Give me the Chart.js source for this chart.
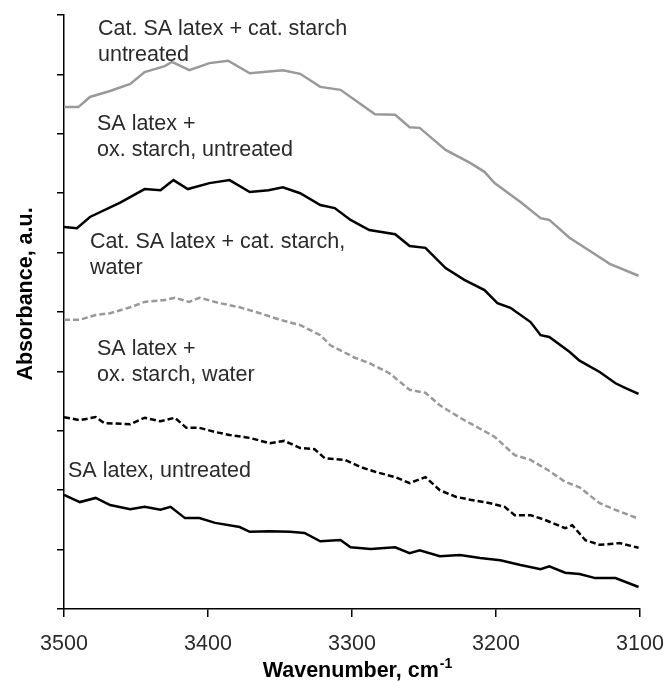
<!DOCTYPE html>
<html>
<head>
<meta charset="utf-8">
<script src="https://cdn.jsdelivr.net/npm/chart.js@4.4.1/dist/chart.umd.min.js"></script>
<style>
html, body { margin: 0; padding: 0; background: #fff; }
#wrap { width: 666px; height: 681px; }
</style>
</head>
<body>
<div id="wrap"><canvas id="myChart"></canvas></div>
<script>
// wavenumber (cm-1) and absorbance (a.u., offset)
const wnCatUntreated = [3500, 3490, 3482, 3468, 3454, 3444, 3430, 3425, 3413, 3399, 3386, 3371, 3348, 3336, 3322, 3308, 3298, 3284, 3270, 3260, 3253, 3235, 3218, 3208, 3201, 3183, 3169, 3163, 3149, 3135, 3121, 3101];
const absCatUntreated = [8.45, 8.45, 8.62, 8.72, 8.84, 9.04, 9.14, 9.21, 9.07, 9.19, 9.23, 9.02, 9.07, 9.01, 8.79, 8.74, 8.57, 8.33, 8.32, 8.11, 8.10, 7.73, 7.51, 7.36, 7.17, 6.85, 6.58, 6.55, 6.25, 6.03, 5.81, 5.61];

const wnOxUntreated = [3500, 3491, 3482, 3461, 3444, 3433, 3424, 3414, 3399, 3385, 3371, 3358, 3348, 3336, 3322, 3312, 3301, 3288, 3270, 3260, 3249, 3235, 3222, 3208, 3199, 3190, 3176, 3169, 3163, 3149, 3142, 3128, 3117, 3110, 3101];
const absOxUntreated = [6.43, 6.41, 6.60, 6.84, 7.07, 7.05, 7.22, 7.07, 7.17, 7.22, 7.02, 7.05, 7.10, 7.00, 6.80, 6.75, 6.55, 6.38, 6.31, 6.11, 6.08, 5.74, 5.54, 5.37, 5.15, 5.07, 4.83, 4.61, 4.58, 4.33, 4.18, 3.99, 3.80, 3.72, 3.62];

const wnCatWater = [3500, 3489, 3478, 3468, 3454, 3444, 3430, 3423, 3413, 3406, 3392, 3378, 3364, 3350, 3336, 3322, 3315, 3298, 3288, 3274, 3260, 3249, 3239, 3225, 3213, 3201, 3187, 3176, 3164, 3152, 3142, 3128, 3117, 3101];
const absCatWater = [4.87, 4.87, 4.95, 4.98, 5.08, 5.17, 5.20, 5.24, 5.17, 5.24, 5.15, 5.08, 4.98, 4.87, 4.78, 4.61, 4.44, 4.23, 4.14, 3.97, 3.69, 3.64, 3.43, 3.22, 3.06, 2.90, 2.59, 2.51, 2.34, 2.14, 2.05, 1.78, 1.67, 1.52];

const wnOxWater = [3500, 3489, 3478, 3472, 3454, 3444, 3433, 3423, 3415, 3406, 3395, 3385, 3371, 3357, 3347, 3336, 3326, 3319, 3305, 3294, 3284, 3270, 3260, 3249, 3239, 3228, 3218, 3204, 3194, 3187, 3176, 3166, 3152, 3147, 3138, 3128, 3114, 3101];
const absOxWater = [3.23, 3.18, 3.23, 3.13, 3.11, 3.22, 3.16, 3.22, 3.05, 3.05, 2.98, 2.93, 2.88, 2.79, 2.83, 2.71, 2.69, 2.54, 2.51, 2.39, 2.31, 2.22, 2.12, 2.22, 2.00, 1.89, 1.84, 1.78, 1.72, 1.58, 1.58, 1.50, 1.36, 1.41, 1.16, 1.08, 1.11, 1.03];

const wnLatex = [3500, 3489, 3478, 3468, 3454, 3444, 3433, 3426, 3416, 3406, 3395, 3378, 3371, 3357, 3343, 3333, 3322, 3308, 3301, 3287, 3270, 3260, 3253, 3239, 3225, 3211, 3197, 3183, 3169, 3163, 3152, 3142, 3131, 3117, 3101];
const absLatex = [1.92, 1.80, 1.87, 1.75, 1.68, 1.72, 1.67, 1.72, 1.53, 1.53, 1.45, 1.38, 1.30, 1.31, 1.30, 1.28, 1.14, 1.16, 1.04, 1.01, 1.04, 0.94, 0.99, 0.89, 0.91, 0.86, 0.82, 0.74, 0.67, 0.72, 0.61, 0.59, 0.52, 0.52, 0.37];

const xTicks = [3500, 3400, 3300, 3200, 3100];

const seriesLabels = [
    ['Cat. SA latex + cat. starch', 'untreated'],
    ['SA latex +', 'ox. starch, untreated'],
    ['Cat. SA latex + cat. starch,', 'water'],
    ['SA latex +', 'ox. starch, water'],
    ['SA latex, untreated']
];

function toPoints(xs, ys) {
    return xs.map((x, i) => ({ x: x, y: ys[i] }));
}

const FONT = '"Liberation Sans", Arial, sans-serif';
const GREY = '#999999';

// where each label's first baseline sits, in data units
const labelAnchors = [
    { wn: 3476.4, abs: 9.66 },
    { wn: 3477.1, abs: 8.06 },
    { wn: 3481.9, abs: 6.08 },
    { wn: 3477.1, abs: 4.28 },
    { wn: 3497.2, abs: 2.22 }
];

const textPlugin = {
    id: 'textPlugin',
    afterDraw(chart) {
        const ctx = chart.ctx;
        const xs = chart.scales.x, ys = chart.scales.y;
        ctx.save();
        ctx.fillStyle = '#2a2a2a';
        ctx.textAlign = 'left';
        ctx.textBaseline = 'alphabetic';
        ctx.font = '21.5px ' + FONT;
        seriesLabels.forEach((lines, i) => {
            const px = xs.getPixelForValue(labelAnchors[i].wn);
            const py = ys.getPixelForValue(labelAnchors[i].abs);
            lines.forEach((line, j) => {
                ctx.fillText(line, px, py + j * 26);
            });
        });

        // x axis title with superscript
        ctx.fillStyle = '#000';
        ctx.font = 'bold 21.5px ' + FONT;
        const main = 'Wavenumber, cm';
        const mainW = ctx.measureText(main).width;
        ctx.font = 'bold 14px ' + FONT;
        const sup = '-1';
        const supW = ctx.measureText(sup).width;
        const startX = 357 - (mainW + supW) / 2;
        ctx.font = 'bold 21.5px ' + FONT;
        ctx.fillText(main, startX, 677);
        ctx.font = 'bold 14px ' + FONT;
        ctx.fillText(sup, startX + mainW + 1, 668);

        // y axis title
        ctx.font = 'bold 21.5px ' + FONT;
        ctx.translate(32, 294);
        ctx.rotate(-Math.PI / 2);
        ctx.textAlign = 'center';
        ctx.fillText('Absorbance, a.u.', 0, 0);
        ctx.restore();
    }
};

const ctx = document.getElementById('myChart').getContext('2d');
const myChart = new Chart(ctx, {
    type: 'line',
    data: {
        datasets: [
            { data: toPoints(wnCatUntreated, absCatUntreated), borderColor: GREY, borderWidth: 2.5 },
            { data: toPoints(wnOxUntreated, absOxUntreated), borderColor: '#000', borderWidth: 2.5 },
            { data: toPoints(wnCatWater, absCatWater), borderColor: GREY, borderWidth: 2.5, borderDash: [6, 3] },
            { data: toPoints(wnOxWater, absOxWater), borderColor: '#000', borderWidth: 2.5, borderDash: [6, 3] },
            { data: toPoints(wnLatex, absLatex), borderColor: '#000', borderWidth: 2.5 }
        ]
    },
    options: {
        responsive: true,
        maintainAspectRatio: false,
        animation: false,
        layout: { padding: { top: 15, right: 26, left: 0, bottom: 0 } },
        elements: {
            point: { radius: 0 },
            line: { tension: 0, fill: false, borderCapStyle: 'butt' }
        },
        plugins: {
            legend: { display: false },
            tooltip: { enabled: false },
            title: { display: false }
        },
        scales: {
            x: {
                type: 'linear',
                reverse: true,
                min: 3100,
                max: 3500,
                afterBuildTicks: scale => { scale.ticks = xTicks.map(v => ({ value: v })); },
                afterFit: scale => {
                    scale.height = 72;
                    scale.paddingLeft = 0;
                    scale.paddingRight = 0;
                },
                border: { display: true, color: '#000', width: 1.5 },
                grid: { drawOnChartArea: false, drawTicks: true, tickLength: 8, color: '#000', lineWidth: 1.5 },
                ticks: {
                    padding: 14,
                    color: '#2a2a2a',
                    font: { family: FONT, size: 21.5 },
                    maxRotation: 0,
                    callback: v => String(v)
                }
            },
            y: {
                min: 0,
                max: 10,
                afterFit: scale => {
                    scale.width = 64;
                    scale.paddingTop = 0;
                    scale.paddingBottom = 0;
                },
                border: { display: true, color: '#000', width: 1.5 },
                grid: { drawOnChartArea: false, drawTicks: true, tickLength: 7, color: '#000', lineWidth: 1.5 },
                ticks: { display: false, stepSize: 1 }
            }
        }
    },
    plugins: [textPlugin]
});
</script>
</body>
</html>
